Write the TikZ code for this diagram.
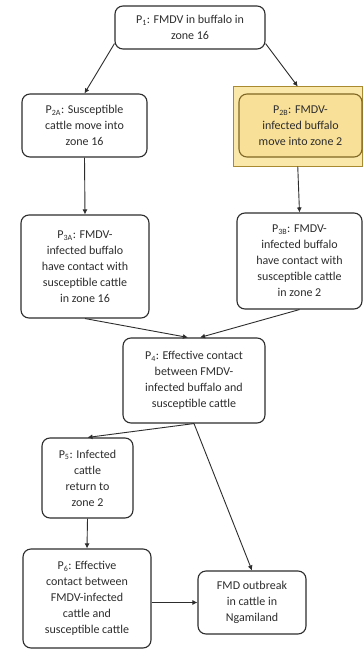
\documentclass[tikz,border=0pt]{standalone}
\usepackage{fontspec}
\setmainfont{Carlito}
\usetikzlibrary{arrows.meta}
\definecolor{boxline}{RGB}{45,45,45}
\definecolor{hilite}{RGB}{250,231,170}
\definecolor{hiliteline}{RGB}{170,138,48}
\definecolor{hiliteinner}{RGB}{248,224,152}
\newcommand{\pstep}[1]{P\textsubscript{#1}:}
\tikzset{
  pbox/.style={draw=boxline, line width=1.1pt, rounded corners=8pt, align=center,
    inner sep=2pt, text=boxline, font=\fontsize{12}{16}\selectfont},
  hbox/.style={pbox, fill=hiliteinner, draw=hiliteline!75!black},
  hframe/.style={draw=hiliteline, fill=hilite, line width=1pt, inner sep=0pt},
  parr/.style={-{Latex[length=5pt,width=5pt]}, boxline, line width=0.9pt},
}

\begin{document}
\begin{tikzpicture}[x=1pt, y=-1pt]
  \useasboundingbox[fill=white] (0,0) rectangle (363,650);
  % boxes
  \node[pbox, minimum width=150pt, minimum height=43pt] (p1) at (190,27.5)
    {\pstep{1} FMDV in buffalo in\\zone 16};
  \node[pbox, minimum width=125pt, minimum height=63pt] (p2a) at (84.5,125.5)
    {\pstep{2A} Susceptible\\cattle move into\\zone 16};
  \node[hframe, minimum width=129.5pt, minimum height=79pt] (p2bframe) at (297.75,126.5) {};
  \node[hbox, minimum width=123pt, minimum height=63pt] (p2b) at (300.5,125.5)
    {\pstep{2B} FMDV-\\infected buffalo\\move into zone 2};
  \node[pbox, minimum width=128pt, minimum height=103pt] (p3a) at (85,266.5)
    {\pstep{3A} FMDV-\\infected buffalo\\have contact with\\susceptible cattle\\in zone 16};
  \node[pbox, minimum width=125pt, minimum height=96pt] (p3b) at (299.5,261)
    {\pstep{3B} FMDV-\\infected buffalo\\have contact with\\susceptible cattle\\in zone 2};
  \node[pbox, minimum width=142pt, minimum height=85pt] (p4) at (194,380.5)
    {\pstep{4} Effective contact\\between FMDV-\\infected buffalo and\\susceptible cattle};
  \node[pbox, minimum width=91pt, minimum height=80pt] (p5) at (87.5,478)
    {\pstep{5} Infected\\cattle\\return to\\zone 2};
  \node[pbox, minimum width=128pt, minimum height=99pt] (p6) at (87,598.5)
    {\pstep{6} Effective\\contact between\\FMDV-infected\\cattle and\\susceptible cattle};
  \node[pbox, minimum width=108pt, minimum height=63pt] (outbreak) at (252,602.5)
    {FMD outbreak\\in cattle in\\Ngamiland};
  % arrows
  \draw[parr] (p1.192) -- (p2a.north);
  \draw[parr] (p1.-12) -- (p2bframe.north);
  \draw[parr] (p2a.south) -- (p3a.north);
  \draw[parr] (p2bframe.south) -- (p3b.north);
  \draw[parr] (p3a.south) -- (p4.98);
  \draw[parr] (p3b.south) -- (p4.82);
  \draw[parr] (p4.south) -- (p5.north);
  \draw[parr] (p4.south) -- (outbreak.north);
  \draw[parr] (p5.south) -- (p6.north);
  \draw[parr] (p6.east |- outbreak.west) -- (outbreak.west);
\end{tikzpicture}
\end{document}
